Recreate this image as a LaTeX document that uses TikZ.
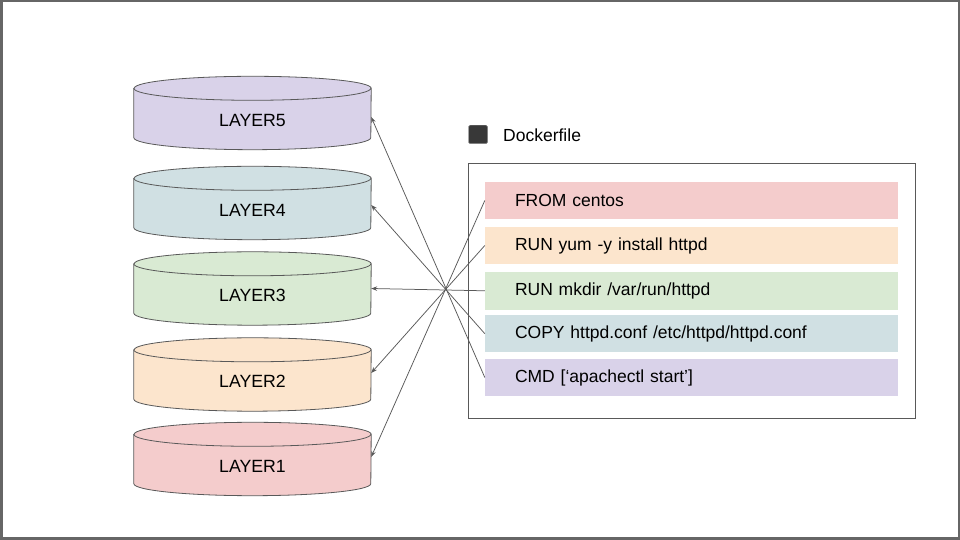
\documentclass[tikz,border=0pt]{standalone}
\usepackage{fontspec}
\setmainfont{Liberation Sans}
\usetikzlibrary{arrows.meta}
\definecolor{cpurple}{HTML}{D9D2E9}
\definecolor{cblue}{HTML}{D0E0E3}
\definecolor{cgreen}{HTML}{D9EAD3}
\definecolor{corange}{HTML}{FCE5CD}
\definecolor{cred}{HTML}{F4CCCC}
\definecolor{edgegray}{HTML}{595959}
\definecolor{framegray}{HTML}{666666}
\tikzset{
  cylbox/.style={minimum width=237pt, minimum height=73pt, inner sep=0pt,
    text height=49.85pt, text depth=23.15pt, font=\fontsize{17.7}{20}\selectfont},
  cylline/.style={draw=edgegray, line width=0.8pt},
  stepbox/.style={minimum height=37.5pt, inner ysep=0pt, inner xsep=30pt,
    text width=352.7pt, align=left, font=\fontsize{17.5}{20}\selectfont, anchor=center},
  conn/.style={draw=edgegray, line width=0.75pt, -{Stealth[length=6pt,width=4.5pt]}}
}
\newcommand\layercyl[4]{%
  \node[cylbox] (#1) at (252.5,#3) {};
  \path[fill=#2, cylline] ([yshift=-12pt]#1.north west) -- ([yshift=12pt]#1.south west)
     arc[start angle=180, end angle=360, x radius=118.5pt, y radius=12pt]
     -- ([yshift=-12pt]#1.north east)
     arc[start angle=0, end angle=180, x radius=118.5pt, y radius=12pt] -- cycle;
  \draw[cylline] ([yshift=-12pt]#1.north west)
     arc[start angle=180, end angle=360, x radius=118.5pt, y radius=12pt];
  \node[cylbox] (#1t) at (252.5,#3) {#4};
}
\begin{document}
\begin{tikzpicture}[x=1pt,y=1pt]
\useasboundingbox (0,0) rectangle (960,540);
\fill[white] (0,0) rectangle (960,540);
\draw[framegray, line width=2.5pt] (1.25,1.25) rectangle (958.75,538.75);

% layers
\layercyl{l5}{cpurple}{427}{LAYER5}
\layercyl{l4}{cblue}{337}{LAYER4}
\layercyl{l3}{cgreen}{251.5}{LAYER3}
\layercyl{l2}{corange}{165.5}{LAYER2}
\layercyl{l1}{cred}{81}{LAYER1}

% Dockerfile header
\node[fill=black!78, draw=black!45, line width=0.4pt, rounded corners=1.5pt,
      minimum width=19pt, minimum height=18.5pt, inner sep=0pt] (sq) at (478,405.5) {};
\node[anchor=west, inner sep=0pt, font=\fontsize{17.5}{20}\selectfont] (dfl) at (503,405) {Dockerfile};

% frame
\node[draw=edgegray, line width=0.8pt, minimum width=447pt, minimum height=255pt,
      inner sep=0pt] (frame) at (691.8,249.2) {};

% steps
\node[stepbox, fill=cred] (s1) at (691.35,339.5) {FROM centos};
\node[stepbox, fill=corange] (s2) at (691.35,294.5) {RUN yum -y install httpd};
\node[stepbox, fill=cgreen] (s3) at (691.35,249.2) {RUN mkdir /var/run/httpd};
\node[stepbox, fill=cblue] (s4) at (691.35,206.3) {COPY httpd.conf /etc/httpd/httpd.conf};
\node[stepbox, fill=cpurple] (s5) at (691.35,162.5) {CMD [‘apachectl start’]};

% connectors
\draw[conn] (s1.west) -- ([yshift=2pt]l1.east);
\draw[conn] (s2.west) -- ([yshift=1.5pt]l2.east);
\draw[conn] (s3.west) -- (l3.east);
\draw[conn] (s4.west) -- ([yshift=-2pt]l4.east);
\draw[conn] (s5.west) -- ([yshift=-4pt]l5.east);
\end{tikzpicture}
\end{document}
